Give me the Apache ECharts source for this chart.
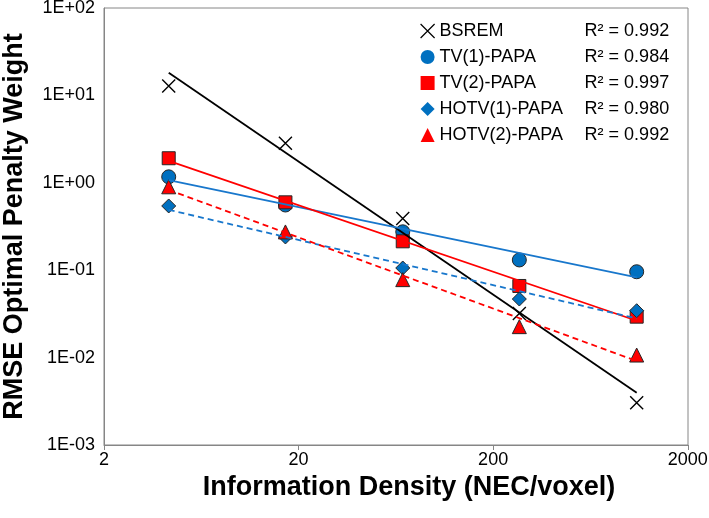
<!DOCTYPE html>
<html>
<head>
<meta charset="utf-8">
<script src="https://cdn.jsdelivr.net/npm/echarts@6/dist/echarts.min.js"></script>
<style>html,body{margin:0;padding:0;background:#fff}#c{width:709px;height:518px}</style>
</head>
<body>
<div id="c"></div>
<script>
// Information density (NEC/voxel)
const xValues = [4.3, 17.1, 68.5, 272, 1090];
// RMSE optimal penalty weight per method
const bsrem = [12.8, 2.83, 0.39, 0.032, 0.00305];
const tv1 = [1.17, 0.557, 0.275, 0.131, 0.096];
const tv2 = [1.91, 0.598, 0.214, 0.066, 0.0294];
const hotv1 = [0.543, 0.240, 0.106, 0.0468, 0.0344];
const hotv2 = [0.90, 0.274, 0.078, 0.0226, 0.0107];
// power-law trendline values at first and last x
const fitBsrem = [18.2, 0.00396];
const fitTv1 = [1.07, 0.083];
const fitTv2 = [1.78, 0.0264];
const fitHotv1 = [0.49, 0.0281];
const fitHotv2 = [0.828, 0.00914];
const names = ['BSREM', 'TV(1)-PAPA', 'TV(2)-PAPA', 'HOTV(1)-PAPA', 'HOTV(2)-PAPA'];
const r2 = ['0.992', '0.984', '0.997', '0.980', '0.992'];
const xTicks = ['2', '20', '200', '2000'];

const BLUE = '#0070C0', BLUE_LINE = '#1877CC', RED = '#FF0000', EDGE = '#262626';
const XPATH = 'path://M0,0L10,10M10,0L0,10';
const FONT = 'Liberation Sans';

function pts(arr) { return arr.map((v, i) => [xValues[i], v]); }
function fit(arr) { return [[xValues[0], arr[0]], [xValues[xValues.length - 1], arr[1]]]; }

const markerDefs = [
  { data: bsrem, symbol: XPATH, size: 13, style: { color: 'rgba(0,0,0,0)', borderColor: '#000', borderWidth: 1.4, opacity: 1 } },
  { data: tv1, symbol: 'circle', size: 14, style: { color: BLUE, borderColor: EDGE, borderWidth: 1, opacity: 1 } },
  { data: tv2, symbol: 'rect', size: 13, style: { color: RED, borderColor: EDGE, borderWidth: 1, opacity: 1 } },
  { data: hotv1, symbol: 'diamond', size: 14, style: { color: BLUE, borderColor: EDGE, borderWidth: 1, opacity: 1 } },
  { data: hotv2, symbol: 'triangle', size: 14, style: { color: RED, borderColor: EDGE, borderWidth: 1, opacity: 1 } }
];
const fitDefs = [
  { data: fitBsrem, color: '#000', type: 'solid' },
  { data: fitTv1, color: BLUE_LINE, type: 'solid' },
  { data: fitTv2, color: RED, type: 'solid' },
  { data: fitHotv1, color: BLUE_LINE, type: [6, 4] },
  { data: fitHotv2, color: RED, type: [6, 4] }
];

const series = [];
markerDefs.forEach((m, i) => {
  series.push({
    name: names[i], type: 'scatter', data: pts(m.data),
    symbol: m.symbol, symbolSize: m.size, itemStyle: m.style,
    emphasis: { disabled: true }, z: 2
  });
});
fitDefs.forEach((f, i) => {
  series.push({
    name: names[i] + ' fit', type: 'line', data: fit(f.data),
    symbol: 'none', lineStyle: { color: f.color, width: 1.8, type: f.type },
    emphasis: { disabled: true }, z: 3
  });
});

const legendIcons = [XPATH, 'circle', 'rect', 'diamond', 'triangle'];
const legendStyles = [
  { color: 'rgba(0,0,0,0)', borderColor: '#000', borderWidth: 1.2, opacity: 1 },
  { color: BLUE, borderWidth: 0, opacity: 1 },
  { color: RED, borderWidth: 0, opacity: 1 },
  { color: BLUE, borderWidth: 0, opacity: 1 },
  { color: RED, borderWidth: 0, opacity: 1 }
];

function expLabel(v) {
  const e = Math.round(Math.log10(v));
  return '1E' + (e >= 0 ? '+' : '-') + String(Math.abs(e)).padStart(2, '0');
}

const chart = echarts.init(document.getElementById('c'), null, { renderer: 'canvas' });
chart.setOption({
  animation: false,
  backgroundColor: '#fff',
  textStyle: { fontFamily: FONT },
  grid: { left: 104, right: 21, top: 8, bottom: 73, show: true, borderColor: '#868686', borderWidth: 1, containLabel: false, outerBoundsMode: 'none' },
  legend: {
    orient: 'vertical', left: 415, top: 16, itemWidth: 14, itemHeight: 14, itemGap: 6,
    selectedMode: false,
    data: names.map((n, i) => ({ name: n, icon: legendIcons[i], itemStyle: legendStyles[i] })),
    formatter: function (name) {
      const i = names.indexOf(name);
      return '{n|' + name + '}{r|R² = ' + r2[i] + '}';
    },
    textStyle: {
      fontFamily: FONT, fontSize: 18, color: '#000', lineHeight: 20,
      rich: {
        n: { width: 145, fontSize: 18, fontFamily: FONT, color: '#000' },
        r: { fontSize: 18, fontFamily: FONT, color: '#000' }
      }
    }
  },
  xAxis: {
    type: 'log', logBase: 10, min: 2, max: 2000, interval: 1,
    name: 'Information Density (NEC/voxel)', nameLocation: 'middle', nameGap: 27,
    nameTextStyle: { fontFamily: FONT, fontSize: 27, fontWeight: 'bold', color: '#000', padding: [0, 0, 0, 26] },
    axisLine: { show: true, lineStyle: { color: '#868686', width: 1 } },
    axisTick: { show: true, length: 5, inside: false, lineStyle: { color: '#868686' } },
    minorTick: { show: false },
    splitLine: { show: false },
    axisLabel: {
      fontFamily: FONT, fontSize: 18, color: '#000', margin: 6,
      formatter: function (v) {
        const idx = Math.round(Math.log10(v / 2));
        return xTicks[idx] !== undefined ? xTicks[idx] : '';
      }
    }
  },
  yAxis: {
    type: 'log', logBase: 10, min: 0.001, max: 100, interval: 1,
    name: 'RMSE Optimal Penalty Weight', nameLocation: 'middle', nameGap: 76,
    nameTextStyle: { fontFamily: FONT, fontSize: 27, fontWeight: 'bold', color: '#000' },
    axisLine: { show: true, lineStyle: { color: '#868686', width: 1 } },
    axisTick: { show: false },
    splitLine: { show: false },
    axisLabel: { fontFamily: FONT, fontSize: 18, color: '#000', margin: 9, formatter: expLabel }
  },
  series: series
});
</script>
</body>
</html>
